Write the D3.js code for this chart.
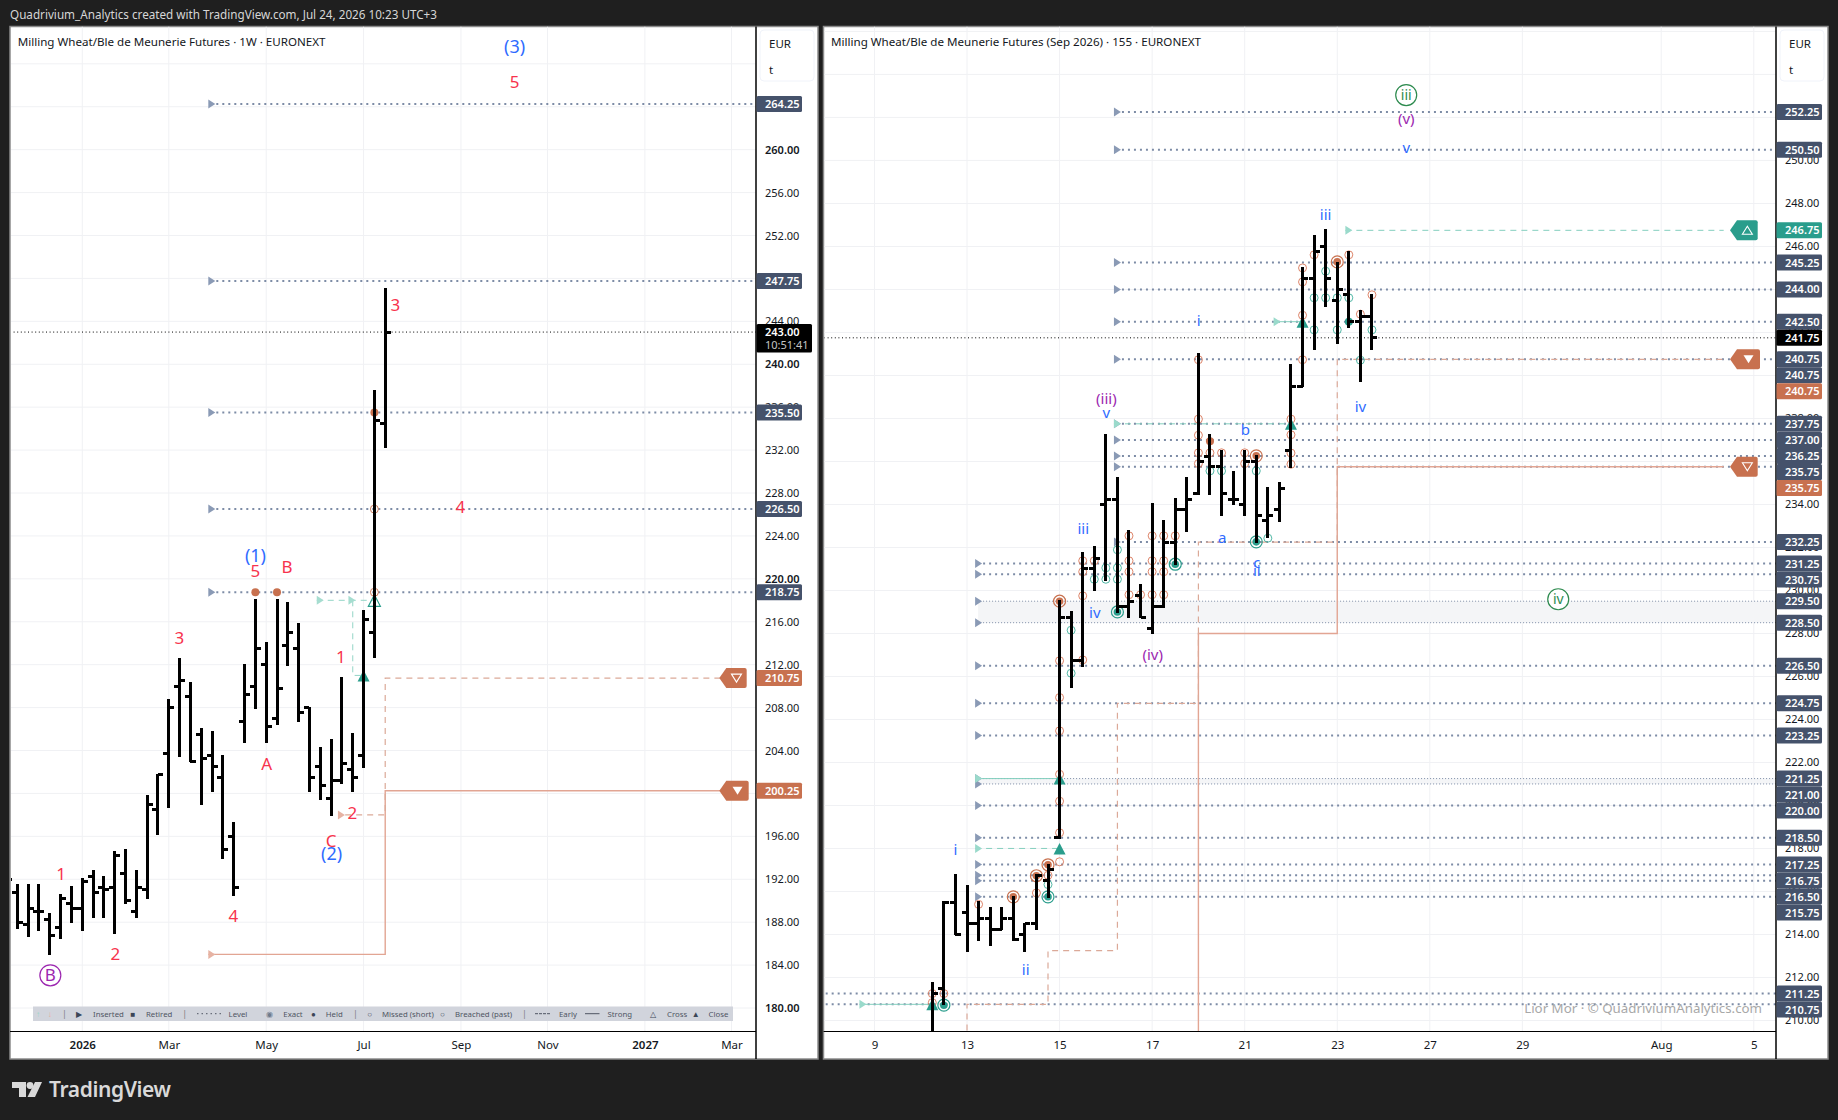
<!DOCTYPE html>
<html>
<head>
<meta charset="utf-8">
<script src="https://cdn.jsdelivr.net/npm/d3@7/dist/d3.min.js"></script>
<style>
  html, body { margin: 0; background: #1f1f1f; }
  svg { display: block; }
  text { font-family: "Noto Sans", sans-serif; }
</style>
</head>
<body>
<div id="chart"></div>
<script>
// weekly chart (bar index 0 = first full bar on screen, -1 is cut off by the frame)
var weeklyOpen  = [191,190.75,187.75,189,188.25,187.5,189.75,189.25,192.25,191.25,191.25,192.5,189,191,198.5,203.75,210,209,205.5,203.5,201.5,196,206.75,210,212,207,213.75,213.5,208,202.5,199.5,201.25,202.25,203.5,215,234.5];
var weeklyHigh  = [193,191.5,191.5,191.5,188.75,190.5,191.25,192,192.75,192.25,194.5,194.75,192.75,199.75,201.75,208.75,212.5,210.25,206,205.75,203.5,197.25,212,218,214,218,217.75,215.75,208,204.25,205,210.75,205.5,217,237.5,247];
var weeklyLow   = [190.5,187.5,186.75,187.25,185,186.5,188,187.25,188.5,188.5,187,189.75,188.5,190.25,196.25,198.75,203.5,203,199,200.25,194,190.5,204.75,208,204.75,206.5,212,206.75,200.25,199.5,198,201,200.25,202.5,212.75,232.25];
var weeklyClose = [192,188,189.25,189,186.75,190.25,189.25,191.75,190.75,191,194.25,190,191.25,199,201.75,208,210.5,203,203.25,202.5,194.75,191.25,209.25,213.5,206.25,209.75,215,207.5,201.5,200.75,201.25,202.75,201.5,216.25,234.75,243];
var weeklyTicks = [[6,"2026"],[14,"Mar"],[23,"May"],[32,"Jul"],[41,"Sep"],[49,"Nov"],[58,"2027"],[66,"Mar"]];
var weeklyPrices = d3.range(180, 264, 4);
var weeklyLevels = [264.25,247.75,235.5,226.5,218.75];
var weeklyLast = 243;
var weeklyRed = [["5",45.96,266.28],["3",34.93,245.5],["4",40.94,226.72],["5",22.01,220.76],["B",24.92,221.08],["3",14.97,214.5],["A",23.05,202.72],["1",29.91,212.74],["2",30.96,198.19],["C",28.99,195.6],["1",4.04,192.51],["2",9.05,185.05],["4",19.96,188.61]];
var weeklyBlue = [["(3)",45.96,269.64],["(1)",22.01,222.13],["(2)",29.05,194.37]];
var weeklyCircled = [["B",3.05,183.05]];
var weeklyDots = [[22,218.75],[24,218.75],[33,235.5]];
var weeklyOpenDots = [[33,226.5],[33,218.75]];
var weeklyStopSolid = [[17.65,185],[34,185],[34,200.25],[64.94,200.25]];
var weeklyStopDash = [[30.3,198],[34,198],[34,210.75],[64.94,210.75]];
var weeklyCrossDash = [[27.67,218],[33,218]];
var weeklyCloseDash = [[31,218],[31,211],[32,211]];

// 155 minute chart
var intraOpen  = [209,211.5,215.5,215,214.5,214.75,214.25,214.75,214,214.5,216.5,218.5,228.75,226.75,231,234,234.25,229.25,229.75,228.25,229.25,232.25,233.75,234.5,236.25,235.75,234.25,234,236,233.25,233.75,236.5,239.5,244.5,246,243.5,243.75,242.5,242.75];
var intraHigh  = [211.75,215.5,216.75,216.25,215.5,215.25,215.25,215.75,214.5,216.75,217.25,229.5,229,231.75,232,237.25,235.25,232.75,230.25,234,233.25,234.25,235.25,241,237.25,236.5,235.5,236.5,236.25,234.75,235,240.5,245,246.5,246.75,245.25,245.75,243,243.75];
var intraLow   = [208.75,210.75,214,213.25,213.75,213.5,214.25,213.75,213.25,214.25,215.75,218.5,225.5,226.5,230,230.5,229,228.75,228.75,228,229.25,231.25,232.75,234.5,234.5,233.5,234,233.5,232.25,232.5,233.25,235.75,239.5,241.25,243.25,241.5,242.25,239.75,241.25];
var intraClose = [211.25,215.5,214,214.5,214.75,214.25,214.75,213.75,214.5,216.75,217,228.75,226.75,231,231.5,234.25,229.25,229.5,228.75,229.25,232.25,233.75,234.25,236,235.75,234.5,234.25,236,233.5,233.5,234.75,239.5,244.5,245.75,244.5,244,242.5,242.75,241.75];
var intraTicks = [[-5,"9"],[3,"13"],[11,"15"],[19,"17"],[27,"21"],[35,"23"],[43,"27"],[51,"29"],[63,"Aug"],[71,"5"]];
var intraPrices = d3.range(210, 252, 2);
var intraLevelsUpper = [252.25,250.5,245.25,244,242.5,240.75,237.75,237,236.25,235.75,232.25];
var intraLevelsLower = [231.25,230.75,226.5,224.75,223.25,220,218.5,217.25,216.75,216.5,215.75];
var intraLevelsOld = [211.25,210.75];
var intraBands = [[229.5,228.5],[221.25,221]];
var intraLast = 241.75;
var intraBlue = [["v",40.96,250.57],["iii",34,247.46],["i",23.03,242.53],["iv",37,238.53],["v",15.05,238.28],["b",27.06,237.47],["iii",13.05,232.85],["a",25.05,232.45],["iv",14.05,228.94],["c",28.05,231.27],["ii",28.05,230.9],["i",2,217.93],["ii",8.07,212.34]];
var intraPurple = [["(v)",40.96,251.94],["(iii)",15.05,238.9],["(iv)",19.05,226.99]];
var intraCircled = [["iii",40.96,253.04],["iv",54.1,229.59]];
var touchOrange = [[0,211.25],[0,210.83],[1,211.25],[4,215.4],[11,221.45],[11,220.2],[11,218.73],[11,217.38],[9,215.93],[10,216.75],[11,226.73],[11,225.02],[11,223.47],[13,231.38],[13,230.87],[13,229.75],[13,226.77],[14,231.38],[17,232.54],[17,231.38],[17,230.87],[17,229.8],[18,229.8],[19,232.54],[19,231.38],[19,230.87],[19,229.8],[20,232.54],[20,231.38],[20,230.87],[20,229.8],[21,232.54],[23,240.73],[23,237.97],[23,237.22],[23,236.4],[23,235.9],[24,236.4],[25,236.4],[27,236.4],[27,235.9],[31,237.97],[31,237.24],[31,236.39],[31,235.87],[32,240.73],[32,245],[32,244.35],[32,242.8],[33,245.61],[36,245.61],[37,242.85],[38,243.75]];
var touchTeal = [[10,216.32],[12,228.15],[12,226.15],[14,230.52],[15,231.05],[15,230.52],[16,231.89],[16,231.05],[16,230.52],[24,235.56],[25,235.56],[28,235.56],[29,232.43],[33,243.61],[33,242.12],[34,244.85],[34,243.61],[35,243.61],[35,242.12],[36,243.61],[37,240.71],[38,242.12]];
var exactOrange = [[7,215.75],[9,216.73],[10,217.24],[11,229.5],[28,236.26],[35,245.28]];
var exactTeal = [[1,210.71],[10,215.75],[16,229],[21,231.22],[28,232.26]];
var heldOrange = [[24,236.94]];
var heldTeal = [[36,242.5]];
var closeTriangles = [[0,210.75],[11,218],[11,221.25],[31,237.75],[32,242.5]];
var intraStopSolid = [[23,208],[23,228],[35,228],[35,235.75],[68.4,235.75]];
var intraStopDash = [[3,208],[3,210.75],[10,210.75],[10,213.25],[16,213.25],[16,224.75],[23,224.75],[23,228]];
var intraStopDash2 = [[23,228],[23,232.25],[35,232.25],[35,240.75],[68.4,240.75]];
var intraCrossLines = [[[-6.3,210.75],[0,210.75]],[[3.7,218],[11,218]],[[3.7,221.25],[11,221.25]],[[15.7,237.75],[31,237.75]],[[29.5,242.5],[32,242.5]],[[35.7,246.75],[68.4,246.75]]];

// screen layout
var W = 1838, H = 1120, TOP = 26.5, TIME_Y = 1031.5, BOTTOM = 1059;
var TEAL = "#2a9d8c", ORANGE = "#c8714f", SLATE = "#45526b", DOT = "#7d8ca6";
var RED = "#f7334d", BLUE = "#2f6bff", PURPLE = "#9c27b0", GREEN = "#2e8b4f";

var svg = d3.select("#chart").append("svg").attr("width", W).attr("height", H);

svg.append("text").attr("x", 10).attr("y", 18.5).attr("fill", "#d6d6d6")
  .attr("font-size", 11.7)
  .text("Quadrivium_Analytics created with TradingView.com, Jul 24, 2026 10:23 UTC+3");

function panel(cfg) {
  var x = d3.scaleLinear().domain(cfg.indexDomain).range(cfg.xRange);
  var y = d3.scaleLinear().domain(cfg.priceDomain).range([1031.2, 25.2]);
  var left = cfg.left, right = cfg.right, axisX = cfg.axisX;
  var g = svg.append("g");

  g.append("rect").attr("x", left).attr("y", TOP).attr("width", right - left).attr("height", BOTTOM - TOP)
    .attr("fill", "#fff").attr("stroke", "#8b8b8b").attr("stroke-width", 1.5);

  g.append("clipPath").attr("id", cfg.id).append("rect")
    .attr("x", left + 1).attr("y", TOP).attr("width", axisX - left - 1).attr("height", TIME_Y - TOP);
  var plot = g.append("g").attr("clip-path", "url(#" + cfg.id + ")");

  // grid
  plot.selectAll(".gh").data(cfg.prices).enter().append("line")
    .attr("x1", left).attr("x2", axisX).attr("y1", d => y(d)).attr("y2", d => y(d))
    .attr("stroke", "#f0f1f4");
  var tickIdx = cfg.ticks.map(d => d[0]);
  plot.selectAll(".gv").data(tickIdx).enter().append("line")
    .attr("x1", d => x(d)).attr("x2", d => x(d)).attr("y1", TOP).attr("y2", TIME_Y)
    .attr("stroke", "#f0f1f4");

  return { g: g, plot: plot, x: x, y: y, axisX: axisX, left: left, right: right, cfg: cfg };
}

var line = function(p) {
  return d3.line().x(d => p.x(d[0])).y(d => p.y(d[1]));
};

function arrowHead(p, i, price, col) {
  var px = p.x(i), py = p.y(price);
  p.plot.append("path").attr("d", `M${px},${py - 4.5}L${px + 7},${py}L${px},${py + 4.5}Z`).attr("fill", col);
}

function levels(p, list, start, head) {
  p.plot.selectAll(null).data(list).enter().append("line")
    .attr("x1", p.x(start) + 8).attr("x2", p.axisX).attr("y1", d => p.y(d)).attr("y2", d => p.y(d))
    .attr("stroke", DOT).attr("stroke-width", 2).attr("stroke-dasharray", "2 4");
  if (head) list.forEach(d => arrowHead(p, start, d, "#8a9ab5"));
}

function stepLine(p, pts, col, dash, w) {
  p.plot.append("path").attr("d", line(p)(pts)).attr("fill", "none").attr("stroke", col)
    .attr("stroke-width", w || 1.4).attr("stroke-dasharray", dash || null);
}

function rings(p, pts, col, kind) {
  var s = p.plot.selectAll(null).data(pts).enter().append("g")
    .attr("transform", d => `translate(${p.x(d[0])},${p.y(d[1])})`);
  if (kind == "touch") {
    s.append("circle").attr("r", 4).attr("fill", "none").attr("stroke", col).attr("stroke-width", 1).attr("opacity", 0.9);
  } else if (kind == "held") {
    s.append("circle").attr("r", 4).attr("fill", col);
  } else {
    s.append("circle").attr("r", 6).attr("fill", "none").attr("stroke", col).attr("stroke-width", 1.2);
    s.append("circle").attr("r", 3.8).attr("fill", col);
  }
}

function triangles(p, pts, filled) {
  p.plot.selectAll(null).data(pts).enter().append("path")
    .attr("d", d => { var a = p.x(d[0]), b = p.y(d[1]); return `M${a - 6},${b + 6}L${a},${b - 5.5}L${a + 6},${b + 6}Z`; })
    .attr("fill", filled ? TEAL : "#fff").attr("fill-opacity", filled ? 1 : 0)
    .attr("stroke", TEAL).attr("stroke-width", filled ? 0 : 1.2);
}

function ohlc(p, first, o, h, l, c) {
  var idx = o.map((d, i) => i + first);
  var bars = p.plot.append("g").attr("stroke", "#000").attr("stroke-width", 3).attr("shape-rendering", "crispEdges");
  bars.selectAll(".hl").data(idx).enter().append("line")
    .attr("x1", d => p.x(d)).attr("x2", d => p.x(d))
    .attr("y1", d => p.y(h[d - first]) - 1).attr("y2", d => p.y(l[d - first]) + 1);
  bars.selectAll(".op").data(idx).enter().append("line")
    .attr("x1", d => p.x(d) - 5.5).attr("x2", d => p.x(d))
    .attr("y1", d => p.y(o[d - first])).attr("y2", d => p.y(o[d - first]));
  bars.selectAll(".cl").data(idx).enter().append("line")
    .attr("x1", d => p.x(d)).attr("x2", d => p.x(d) + 5.5)
    .attr("y1", d => p.y(c[d - first])).attr("y2", d => p.y(c[d - first]));
}

function waveText(p, list, col, size) {
  p.plot.selectAll(null).data(list).enter().append("text")
    .attr("x", d => p.x(d[1])).attr("y", d => p.y(d[2])).attr("dy", "0.35em")
    .attr("text-anchor", "middle").attr("fill", col).attr("font-size", size)
    .text(d => d[0]);
}

function circled(p, list, col, size) {
  var s = p.plot.selectAll(null).data(list).enter().append("g")
    .attr("transform", d => `translate(${p.x(d[1])},${p.y(d[2])})`);
  s.append("circle").attr("r", 10.5).attr("fill", "#fff").attr("stroke", col).attr("stroke-width", 1.2);
  s.append("text").attr("dy", "0.35em").attr("text-anchor", "middle").attr("fill", col)
    .attr("font-size", size).text(d => d[0]);
}

function tag(p, price, col, up, filled, x0, x1) {
  var b = p.y(price), xm = x0 + 7;
  p.g.append("path")
    .attr("d", `M${x0},${b}L${xm},${b - 10}H${x1 - 2}Q${x1},${b - 10} ${x1},${b - 8}V${b + 8}Q${x1},${b + 10} ${x1 - 2},${b + 10}H${xm}Z`)
    .attr("fill", col);
  var c = (xm + x1) / 2, d = up ? -1 : 1;
  p.g.append("path")
    .attr("d", `M${c - 5},${b - 4 * d}L${c},${b + 4 * d}L${c + 5},${b - 4 * d}Z`)
    .attr("fill", filled ? "#fff" : "none").attr("stroke", "#fff").attr("stroke-width", filled ? 0 : 1.1);
}

function axes(p) {
  var cfg = p.cfg;
  var px = p.g.append("g").attr("transform", `translate(${p.axisX},0)`)
    .call(d3.axisRight(p.y).tickValues(cfg.prices).tickFormat(d3.format(".2f")).tickSize(0).tickPadding(9));
  px.select(".domain").remove();
  px.selectAll("text").attr("font-size", 11).attr("fill", "#131722")
    .attr("font-family", '"Noto Sans", sans-serif')
    .attr("font-weight", d => (d % 20 == 0 ? 600 : 400));

  var names = new Map(cfg.ticks);
  var tx = p.g.append("g").attr("transform", `translate(0,${TIME_Y})`)
    .call(d3.axisBottom(p.x).tickValues(cfg.ticks.map(d => d[0])).tickFormat(d => names.get(d)).tickSize(0).tickPadding(9));
  tx.select(".domain").remove();
  tx.selectAll("text").attr("font-size", 11.5).attr("fill", "#131722")
    .attr("font-family", '"Noto Sans", sans-serif')
    .attr("font-weight", d => (names.get(d).length == 4 ? 600 : 400));

  p.g.append("line").attr("x1", p.left).attr("x2", p.axisX).attr("y1", TIME_Y).attr("y2", TIME_Y).attr("stroke", "#000");
  p.g.append("line").attr("x1", p.axisX).attr("x2", p.axisX).attr("y1", TOP).attr("y2", BOTTOM).attr("stroke", "#000").attr("stroke-width", 1.5);

  // unit box
  p.g.append("rect").attr("x", p.axisX + 4).attr("y", 30).attr("width", cfg.unitW).attr("height", 51).attr("rx", 4)
    .attr("fill", "#fff").attr("stroke", "#f0f3fa");
  ["EUR", "t"].forEach((t, i) => p.g.append("text").attr("x", p.axisX + 13).attr("y", 48 + i * 25.5)
    .attr("font-size", 11.5).attr("fill", "#131722").text(t));
}

// price labels, pushed down when they would overlap the one above
function priceLabels(p, list) {
  var last = -100;
  list.sort((a, b) => b.price - a.price || a.order - b.order).forEach(d => {
    var h = d.timer ? 28.5 : 16;
    var yy = Math.max(p.y(d.price), last + 16);
    last = yy;
    var w = d.timer ? 55.5 : 45.5;
    p.g.append("rect").attr("x", p.axisX + 0.5).attr("y", yy - 8).attr("width", w).attr("height", h).attr("rx", 1.5).attr("fill", d.col);
    p.g.append("text").attr("x", p.axisX + 9).attr("y", yy + 4).attr("font-size", 11).attr("font-weight", 600).attr("fill", "#fff").text(d.price.toFixed(2));
    if (d.timer) p.g.append("text").attr("x", p.axisX + 9).attr("y", yy + 16.5).attr("font-size", 11).attr("fill", "#c4c4c4").text(d.timer);
  });
}

function labelList(items, col, order) {
  return items.map(d => ({ price: d, col: col, order: order }));
}

// ---------- weekly panel ----------
var wk = panel({ id: "clipW", left: 10, right: 818, axisX: 756,
  indexDomain: [0, 66], xRange: [17.33, 731.45], priceDomain: [177.84, 271.6],
  prices: weeklyPrices, ticks: weeklyTicks, unitW: 54 });

wk.plot.selectAll(".extra").data(d3.range(264, 272, 4)).enter().append("line")
  .attr("x1", 10).attr("x2", 756).attr("y1", d => wk.y(d)).attr("y2", d => wk.y(d)).attr("stroke", "#f0f1f4");

levels(wk, weeklyLevels, 17.65, true);
stepLine(wk, weeklyStopSolid, "#e2a593");
stepLine(wk, weeklyStopDash, "#dba998", "6 5", 1.2);
arrowHead(wk, 17.65, 185, "#e6b3a3");
arrowHead(wk, 29.63, 198, "#e6b3a3");
stepLine(wk, weeklyCrossDash, "#93d5c6", "6 5", 1);
stepLine(wk, weeklyCloseDash, "#93d5c6", "6 5", 1);
arrowHead(wk, 27.67, 218, "#a6ddd0");
arrowHead(wk, 30.6, 218, "#a6ddd0");
rings(wk, weeklyDots, ORANGE, "held");
rings(wk, weeklyOpenDots, ORANGE, "touch");
triangles(wk, [[32, 211]], true);
triangles(wk, [[33, 218]], false);
ohlc(wk, -1, weeklyOpen, weeklyHigh, weeklyLow, weeklyClose);
wk.plot.append("line").attr("x1", 10).attr("x2", 756).attr("y1", wk.y(weeklyLast)).attr("y2", wk.y(weeklyLast))
  .attr("stroke", "#000").attr("stroke-dasharray", "1 2.6");
waveText(wk, weeklyRed, RED, 17);
waveText(wk, weeklyBlue, BLUE, 18);
circled(wk, weeklyCircled, PURPLE, 17);

// legend strip under the weekly bars
var legendTexts = [["Inserted", 93], ["Retired", 146], ["Level", 228.6], ["Exact", 283.3], ["Held", 325.8], ["Missed (short)", 382], ["Breached (past)", 455], ["Early", 559], ["Strong", 607.5], ["Cross", 667], ["Close", 708.5]];
var legendMarks = [["↑", 38, "#9fd6c8"], ["↓", 49.7, "#e8ab9a"], ["|", 64.4, "#777"], ["▶", 79, "#3c4657"], ["■", 133, "#3c4657"], ["|", 184.7, "#777"], ["◉", 269, "#6f7a8c"], ["●", 313.5, "#3c4657"], ["|", 355.5, "#777"], ["○", 369.7, "#3c4657"], ["○", 442.4, "#3c4657"], ["|", 524.5, "#777"], ["△", 653, "#3c4657"], ["▲", 695.8, "#3c4657"]];
var legendDashes = [[197, 223, "1.5 3"], [535, 551, "3 1"], [585, 599.5, null]];
var lg = wk.g.append("g");
lg.append("rect").attr("x", 33).attr("y", 1006.5).attr("width", 700).attr("height", 14.5).attr("fill", "#d1d4dc");
lg.selectAll(".lt").data(legendTexts).enter().append("text").attr("x", d => d[1]).attr("y", 1016.7)
  .attr("font-size", 7.8).attr("fill", "#4f5563").text(d => d[0]);
lg.selectAll(".lm").data(legendMarks).enter().append("text").attr("x", d => d[1]).attr("y", 1017)
  .attr("font-size", 8).attr("text-anchor", "middle").attr("fill", d => d[2]).text(d => d[0]);
lg.selectAll(".ld").data(legendDashes).enter().append("line").attr("x1", d => d[0]).attr("x2", d => d[1])
  .attr("y1", 1013.7).attr("y2", 1013.7).attr("stroke", "#4f5563").attr("stroke-dasharray", d => d[2]);

axes(wk);
tag(wk, 210.75, ORANGE, false, false, 719.3, 746.7);
tag(wk, 200.25, ORANGE, false, true, 719.3, 748.7);
priceLabels(wk, labelList(weeklyLevels, SLATE, 0)
  .concat(labelList([210.75, 200.25], ORANGE, 1))
  .concat([{ price: weeklyLast, col: "#000", order: 2, timer: "10:51:41" }]));
wk.g.append("text").attr("x", 17.7).attr("y", 45.5).attr("font-size", 11.6).attr("fill", "#131722")
  .text("Milling Wheat/Ble de Meunerie Futures · 1W · EURONEXT");

// ---------- 155 minute panel ----------
var id = panel({ id: "clipI", left: 823.5, right: 1828, axisX: 1776,
  indexDomain: [-5, 71], xRange: [874.45, 1753.77], priceDomain: [209.5, 256.29],
  prices: intraPrices, ticks: intraTicks, unitW: 44 });

id.plot.selectAll(".extra").data([252, 254, 256]).enter().append("line")
  .attr("x1", 824).attr("x2", 1776).attr("y1", d => id.y(d)).attr("y2", d => id.y(d)).attr("stroke", "#f0f1f4");

intraBands.forEach(b => {
  id.plot.append("rect").attr("x", id.x(3.7) + 3).attr("width", id.axisX - id.x(3.7) - 3)
    .attr("y", id.y(b[0])).attr("height", id.y(b[1]) - id.y(b[0])).attr("fill", "#f4f5f7");
  b.forEach(v => {
    id.plot.append("line").attr("x1", id.x(3.7) + 8).attr("x2", id.axisX).attr("y1", id.y(v)).attr("y2", id.y(v))
      .attr("stroke", DOT).attr("stroke-dasharray", "1 2");
    arrowHead(id, 3.7, v, "#8a9ab5");
  });
});
levels(id, intraLevelsUpper, 15.7, true);
levels(id, intraLevelsLower, 3.7, true);
levels(id, intraLevelsOld, -12.5, false);

stepLine(id, intraStopSolid, "#e2a593");
stepLine(id, intraStopDash, "#dba998", "6 5", 1.2);
stepLine(id, intraStopDash2, "#dba998", "6 5", 1.2);
intraCrossLines.forEach((l, i) => {
  stepLine(id, l, "#84cfbe", i == 0 || i == 2 || i == 4 ? null : "6 5", 1);
  arrowHead(id, l[0][0], l[0][1], "#9adacb");
});

rings(id, touchOrange, "#d9785a", "touch");
rings(id, touchTeal, "#3fb09c", "touch");
rings(id, heldOrange, ORANGE, "held");
rings(id, heldTeal, TEAL, "held");
rings(id, exactOrange, ORANGE, "exact");
rings(id, exactTeal, TEAL, "exact");
triangles(id, closeTriangles, true);
ohlc(id, 0, intraOpen, intraHigh, intraLow, intraClose);
id.plot.append("line").attr("x1", 824).attr("x2", 1776).attr("y1", id.y(intraLast)).attr("y2", id.y(intraLast))
  .attr("stroke", "#000").attr("stroke-dasharray", "1 2.6");
waveText(id, intraBlue, BLUE, 15);
waveText(id, intraPurple, PURPLE, 15);
circled(id, intraCircled, GREEN, 14);

id.g.append("text").attr("x", 1762).attr("y", 1013).attr("text-anchor", "end").attr("font-size", 13.3)
  .attr("fill", "#a8a8a8").text("Lior Mor · © QuadriviumAnalytics.com");

axes(id);
tag(id, 246.75, TEAL, true, false, 1730, 1757.7);
tag(id, 240.75, ORANGE, false, true, 1730, 1760);
tag(id, 235.75, ORANGE, false, false, 1730, 1757.7);
priceLabels(id, labelList(intraLevelsUpper.concat(intraLevelsLower, intraLevelsOld, [229.5, 228.5, 221.25, 221]), SLATE, 0)
  .concat(labelList([240.75], SLATE, 0))
  .concat(labelList([246.75], TEAL, 1))
  .concat(labelList([240.75, 235.75], ORANGE, 1))
  .concat([{ price: intraLast, col: "#000", order: 2 }]));
id.g.append("text").attr("x", 831).attr("y", 45.5).attr("font-size", 11.6).attr("fill", "#131722")
  .text("Milling Wheat/Ble de Meunerie Futures (Sep 2026) · 155 · EURONEXT");

// footer logo
var logo = svg.append("g").attr("fill", "#d9d9d9");
logo.append("path").attr("d", "M12,1082H26V1097H19V1088H12Z");
logo.append("circle").attr("cx", 30).attr("cy", 1085.5).attr("r", 3.4);
logo.append("path").attr("d", "M35,1082H42L35,1097H27.5Z");
logo.append("text").attr("x", 49).attr("y", 1097).attr("font-family", "Inter, sans-serif")
  .attr("font-size", 21).attr("font-weight", 600).attr("letter-spacing", -0.4).text("TradingView");
</script>
</body>
</html>
